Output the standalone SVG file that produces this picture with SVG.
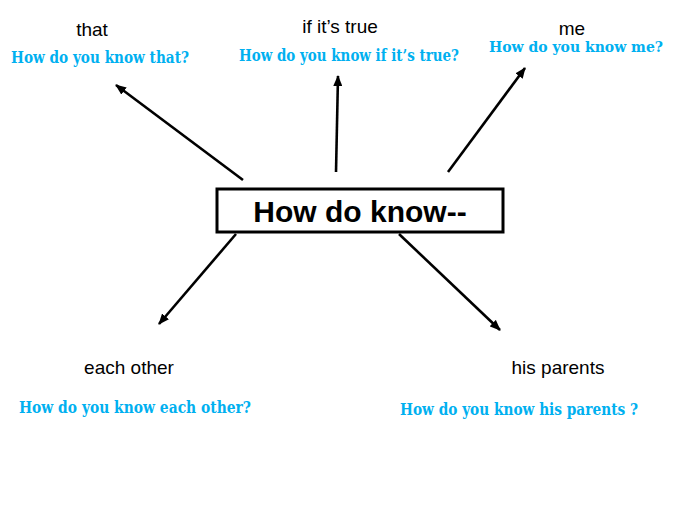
<svg xmlns="http://www.w3.org/2000/svg" width="680" height="510" viewBox="0 0 680 510">
<defs>
<marker id="ah" markerWidth="11" markerHeight="9" refX="10" refY="4.5" orient="auto" markerUnits="userSpaceOnUse">
<path d="M0,0 L11,4.5 L0,9 Z" fill="#000"/>
</marker>
<style>
.lbl{font-family:"Liberation Sans",Arial,sans-serif;font-size:19px;fill:#000;text-anchor:middle}
.q{font-family:"DejaVu Serif","Liberation Serif",serif;font-weight:bold;font-size:16px;fill:#00B0F0}
.ed{stroke:#000;stroke-width:2.6;fill:none;marker-end:url(#ah)}
</style>
</defs>
<rect width="680" height="510" fill="#fff"/>
<g id="center">
<rect x="217" y="189" width="286" height="43" fill="#fff" stroke="#000" stroke-width="3"/>
<text x="360" y="222" font-family="Liberation Sans,Arial,sans-serif" font-weight="bold" font-size="30" text-anchor="middle">How do know--</text>
</g>
<g id="connectors">
<line class="ed" x1="243" y1="180" x2="116" y2="85"/>
<line class="ed" x1="336" y1="172" x2="338" y2="76"/>
<line class="ed" x1="448" y1="172" x2="525" y2="68"/>
<line class="ed" x1="236" y1="234" x2="159" y2="324"/>
<line class="ed" x1="399" y1="234" x2="500" y2="330"/>
</g>
<g id="that">
<text class="lbl" x="92" y="36">that</text>
<text class="q" x="11" y="63" textLength="178" lengthAdjust="spacingAndGlyphs">How do you know that?</text>
</g>
<g id="true">
<text class="lbl" x="340" y="33">if it’s true</text>
<text class="q" x="239" y="61" textLength="220" lengthAdjust="spacingAndGlyphs">How do you know if it’s true?</text>
</g>
<g id="me">
<text class="lbl" x="572" y="35">me</text>
<text class="q" x="489" y="52" font-size="14.5" style="font-size:14.5px" textLength="174" lengthAdjust="spacingAndGlyphs">How do you know me?</text>
</g>
<g id="eachother">
<text class="lbl" x="129" y="374">each other</text>
<text class="q" x="19" y="413" textLength="232" lengthAdjust="spacingAndGlyphs">How do you know each other?</text>
</g>
<g id="parents">
<text class="lbl" x="558" y="374">his parents</text>
<text class="q" x="400" y="415" textLength="238" lengthAdjust="spacingAndGlyphs">How do you know his parents ?</text>
</g>
</svg>
